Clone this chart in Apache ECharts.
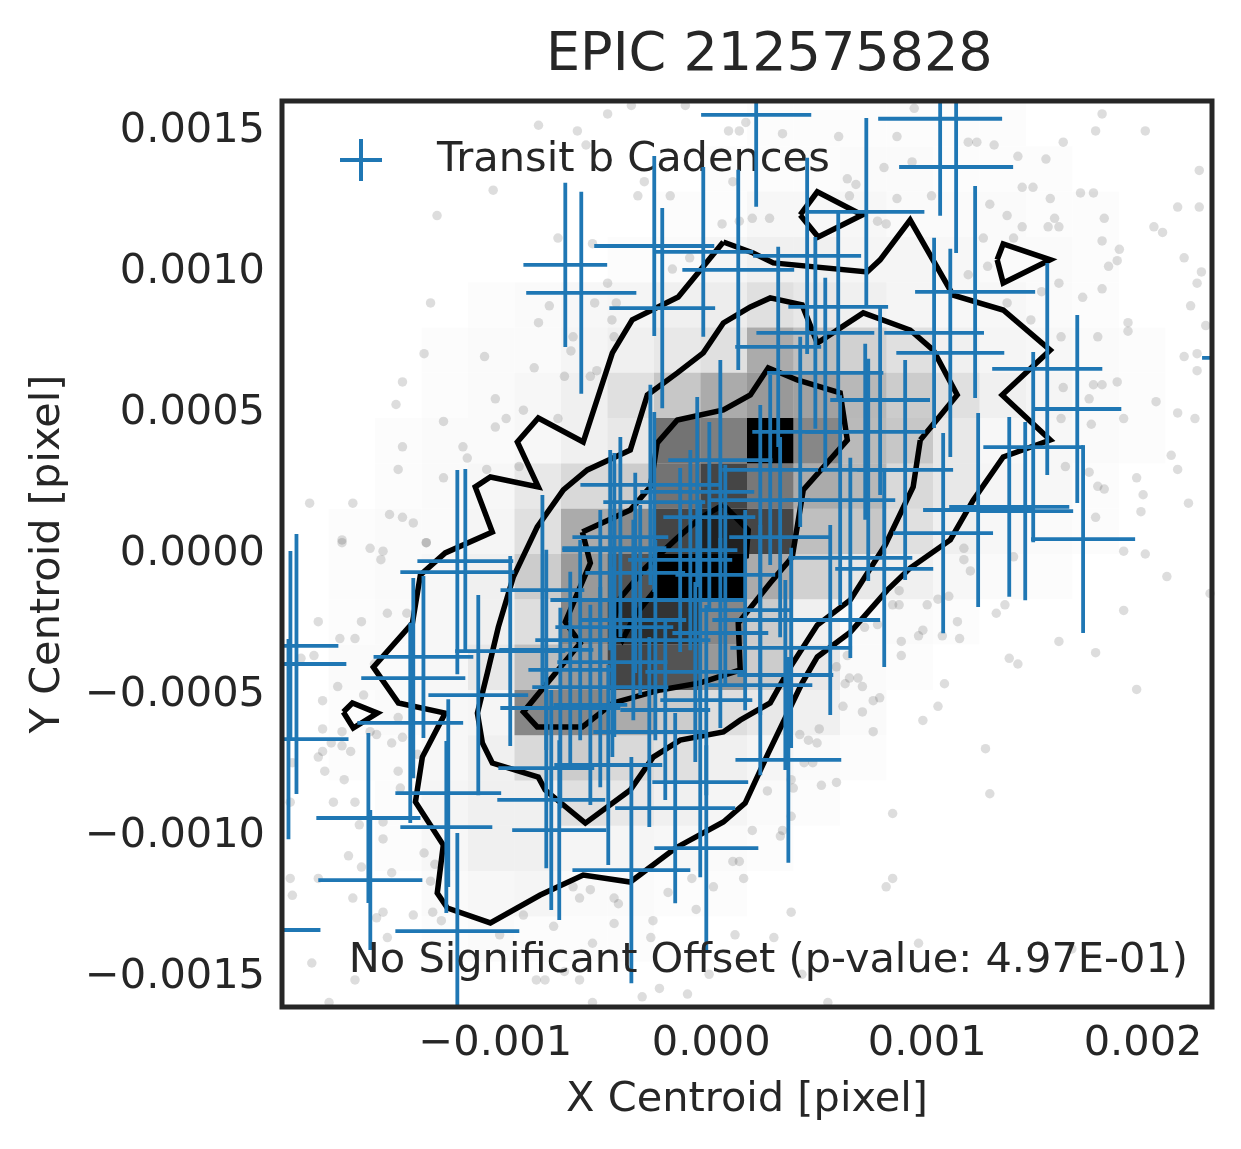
<!DOCTYPE html>
<html>
<head>
<meta charset="utf-8">
<script src="https://cdn.jsdelivr.net/npm/echarts@6/dist/echarts.min.js"></script>
<style>
  html, body { margin: 0; padding: 0; background: #fff; }
  #main { width: 1241px; height: 1149px; }
</style>
</head>
<body>
<div id="main"></div>
<script>
// all centroid values below are in units of 1e-4 pixel
var U = 1e-4;

// axis / histogram range (hist2d covers the whole axes, 20 x 20 bins)
var xRange = [-19.88, 23.19];
var yRange = [-16.06, 16.06];
var nBins = 20;

var xTicks = [-0.001, 0, 0.001, 0.002];
var yTicks = [-0.0015, -0.001, -0.0005, 0, 0.0005, 0.001, 0.0015];

// density of the out-of-transit centroids, rows from top to bottom, 0..100
var density = [
  [0,0,0,0,0,0,0,0,0,0,1,1,1,1,1,1,0,0,0,0],
  [0,0,0,0,0,0,0,0,0,1,1,1,2,2,1,1,1,0,0,0],
  [0,0,0,0,0,0,0,0,1,1,3,3,3,2,2,2,1,1,0,0],
  [0,0,0,0,0,0,0,1,2,4,6,6,4,4,3,2,2,1,0,0],
  [0,0,0,0,1,2,3,4,6,7,12,9,6,4,3,3,2,1,0,0],
  [0,0,0,1,2,2,4,6,9,12,33,25,18,12,6,4,3,2,1,0],
  [0,0,0,1,2,3,6,12,22,33,40,37,28,20,12,6,4,2,1,0],
  [0,0,1,2,2,3,6,9,55,50,100,47,27,22,9,3,3,2,1,0],
  [0,0,1,2,3,9,15,20,55,73,53,33,28,15,9,4,3,1,0,0],
  [0,1,2,2,4,12,33,45,73,87,73,25,22,12,6,3,2,1,0,0],
  [0,1,2,3,6,20,40,67,100,100,33,18,9,6,3,2,1,0,0,0],
  [0,1,2,3,6,13,47,83,80,47,20,6,2,2,1,0,0,0,0,0],
  [0,2,2,3,9,25,40,73,67,40,20,9,2,1,0,0,0,0,0,0],
  [0,1,2,3,4,47,47,33,20,13,9,6,2,0,0,0,0,0,0,0],
  [0,1,1,3,6,15,20,15,12,6,4,2,1,0,0,0,0,0,0,0],
  [0,0,1,4,6,6,12,9,6,4,2,1,0,0,0,0,0,0,0,0],
  [0,0,1,3,6,6,4,4,3,2,1,0,0,0,0,0,0,0,0,0],
  [0,0,0,2,3,4,2,2,1,1,0,0,0,0,0,0,0,0,0,0],
  [0,0,0,1,2,1,1,1,0,0,0,0,0,0,0,0,0,0,0,0],
  [0,0,0,0,0,0,0,0,0,0,0,0,0,0,0,0,0,0,0,0]
];

// contour levels
var contourOuter = [[0.56,11.06],[-1.53,9.11],[-3.66,8.30],[-4.58,7.13],[-5.93,3.97],[-8.01,4.82],[-8.98,3.97],[-8.01,2.38],[-10.23,2.73],[-10.93,2.38],[-10.14,0.78],[-12.32,0.04],[-13.47,-0.74],[-13.84,-2.45],[-15.65,-4.01],[-14.49,-5.28],[-12.32,-5.64],[-13.38,-7.20],[-13.70,-8.79],[-12.41,-10.32],[-12.69,-12.02],[-12.22,-12.55],[-10.23,-13.08],[-7.92,-12.09],[-5.93,-11.38],[-3.75,-11.63],[-1.67,-10.43],[0.56,-9.50],[1.57,-8.83],[2.64,-7.06],[4.21,-4.57],[4.91,-3.65],[6.44,-2.77],[8.15,-1.28],[9.21,-0.50],[11.07,0.50],[12.13,1.91],[13.52,3.44],[15.70,4.04],[13.47,5.64],[15.70,7.23],[13.52,8.65],[11.20,9.18],[9.21,11.84],[7.82,10.43],[7.22,10.00],[2.87,10.32],[1.94,10.67],[0.56,11.06]];
var islandTop = [[4.12,12.02],[4.91,12.84],[6.99,12.02],[4.95,11.24],[4.12,12.02]];
var islandRight = [[13.24,10.43],[13.52,10.99],[15.70,10.43],[13.52,9.61],[13.24,10.43]];
var islandLeft = [[-17.04,-5.60],[-16.62,-5.28],[-15.46,-5.64],[-16.58,-6.17],[-17.04,-5.60]];
var contourMiddle = [[9.68,4.04],[9.35,2.38],[8.06,0.32],[6.44,-1.63],[4.91,-2.52],[3.66,-4.01],[2.73,-5.28],[1.34,-5.89],[0.56,-6.31],[-1.44,-6.60],[-2.69,-7.20],[-3.75,-8.37],[-5.83,-9.54],[-7.69,-8.37],[-8.01,-7.91],[-10.14,-7.41],[-10.60,-6.70],[-10.83,-5.64],[-10.37,-4.22],[-9.86,-2.59],[-9.17,-0.82],[-8.06,0.96],[-6.85,2.27],[-5.74,2.98],[-3.75,3.69],[-2.96,5.64],[-1.57,6.42],[-0.37,7.13],[0.56,8.19],[1.81,8.76],[2.73,9.08],[4.21,8.83],[4.91,7.48],[7.04,8.55],[9.21,7.94],[10.28,7.23],[11.39,5.64],[9.68,4.04]];
var contourInner = [[-5.97,0.78],[-5.60,-0.32],[-6.76,-2.41],[-6.07,-3.16],[-8.70,-5.60],[-8.06,-6.13],[-5.97,-6.13],[-4.54,-5.28],[-2.36,-4.82],[-0.51,-4.57],[1.34,-4.11],[1.25,-2.45],[2.73,-1.03],[3.75,-0.11],[4.26,2.27],[6.30,4.04],[5.97,5.71],[3.98,6.17],[2.64,6.60],[1.81,5.64],[0.56,5.11],[-1.57,4.75],[-2.50,3.94],[-2.82,2.38],[-3.75,1.56],[-5.97,0.78]];
var contourCore = [[0.56,1.74],[1.71,0.85],[1.62,-0.07],[0.05,-0.39],[-1.44,-0.64],[-2.59,-1.28],[-3.52,-2.16],[-4.12,-3.05],[-4.58,-2.52],[-4.21,-1.56],[-3.06,-0.50],[-1.67,0.50],[-0.51,1.28],[0.56,1.74]];

// individual centroids outside the dense region
var dotX = [-4.8,-3.7,-1.2,-8.0,-6.2,0.8,1.3,1.6,-5.8,-10.1,-3.1,-3.4,-1.9,0.5,1.0,1.3,-12.7,-7.1,-5.5,-4.8,-1.0,-1.8,-13.0,-7.5,-5.4,-4.4,-4.6,-8.0,-6.4,-6.5,-4.5,-13.3,-10.5,-8.2,-6.8,-5.6,-5.3,-14.3,-14.6,-10.0,-8.7,-9.5,-7.1,-12.4,-10.0,-14.3,-11.5,-11.3,-14.5,-10.4,-8.9,-12.4,-18.6,-16.6,-14.9,-14.3,-13.8,-17.1,-13.2,
  18.1,17.8,20.1,16.3,11.9,12.3,13.1,14.2,15.5,9.4,8.6,5.9,3.3,8.0,9.3,22.6,6.3,6.7,14.4,14.9,17.1,17.7,6.4,8.6,10.2,12.9,15.7,21.6,22.6,2.7,1.9,13.7,18.2,15.9,7.7,8.1,16.1,15.6,14.4,20.5,20.9,12.6,14.0,18.1,18.9,21.9,18.4,18.8,11.9,12.8,16.1,18.1,22.7,22.5,15.3,17.2,22.2,19.3,19.3,17.9,16.2,22.9,13.7,14.8,12.8,21.9,22.5,22.5,18.1,17.7,18.8,16.3,17.5,20.6,21.6,22.4,19.1,17.6,16.2,21.3,21.6,19.7,17.5,17.9,18.2,20.0,19.9,22.1,17.8,16.4,
  19.1,20.1,11.7,11.7,12.0,14.0,21.1,23.1,19.1,13.2,13.6,10.0,11.0,10.5,8.7,8.4,8.7,7.7,7.1,9.8,9.6,10.7,11.4,11.5,8.8,16.1,17.8,13.8,14.2,8.8,6.3,5.8,6.4,6.8,6.2,7.0,10.8,19.7,7.5,7.8,6.1,7.0,10.5,9.8,5.0,7.5,4.1,4.5,4.9,12.7,4.3,4.7,5.8,5.1,3.7,3.8,2.6,12.9,8.4,3.7,1.9,3.3,3.2,1.3,1.5,8.4,8.1,3.7,2.9,9.6,16.7,5.4,4.2,
  -17.1,-15.8,-15.2,-15.3,-13.2,-15.0,-14.1,-18.2,-16.2,-17.2,-16.5,-18.4,-19.0,-15.6,-17.3,-18.0,-16.1,-14.5,-18.0,-17.1,-15.8,-15.5,-18.0,-17.6,-17.1,-16.7,-18.2,-14.3,-14.8,-13.6,-19.4,-17.9,-14.5,-17.0,-14.4,-17.5,-16.5,-19.5,-16.3,-15.2,-15.2,-16.8,-13.3,-12.8,-16.2,-14.8,-19.5,-18.2,-13.0,-19.4,-16.6,-13.8,-12.9,-12.5,-15.5,-15.2,-15.0,-4.5,-4.3,-6.4,-5.6,-6.1,-2.0,-0.7,0.1,-2.8,-2.7,1.1,1.0,-4.5,-7.3,-8.7,-9.8,-0.9,-5.5,-18.5,-16.5,-17.7,-0.1,-1.1,-8.1,-7.7,-6.1,-3.2,-5.5,-6.8,-2.4];
var dotY = [15.6,15.9,15.9,15.2,15.0,15.0,15.0,15.3,14.5,12.9,13.2,12.7,12.7,11.7,13.2,11.8,12.0,11.2,11.0,9.6,10.5,10.1,8.9,8.8,8.9,8.9,8.3,8.2,7.7,7.2,7.7,7.1,7.0,6.6,6.3,6.3,6.5,6.1,5.3,5.5,5.1,4.8,4.8,4.7,4.5,3.8,3.8,3.4,3.0,3.0,3.1,2.7,1.8,1.8,1.4,1.3,1.1,0.5,0.4,
  15.6,15.0,15.0,14.6,14.6,14.6,14.5,14.1,14.0,15.8,14.8,14.8,14.9,13.7,13.9,13.6,13.3,13.1,13.0,13.0,12.8,12.8,12.7,12.6,12.7,12.4,12.6,12.3,12.3,11.9,11.9,12.0,11.9,11.9,11.8,11.7,11.6,11.6,11.6,11.6,11.4,11.2,11.2,11.1,10.8,10.5,10.2,10.4,9.9,10.2,9.6,9.4,10.0,9.6,9.3,9.1,8.8,8.2,7.9,7.7,7.7,8.1,8.9,8.3,8.3,7.0,7.1,6.5,6.0,6.0,6.1,5.9,5.5,5.4,5.0,4.8,4.8,4.6,4.8,3.5,3.0,2.7,2.9,2.4,2.3,2.1,1.5,1.8,1.3,3.1,
  0.1,0.0,0.2,-0.2,-0.6,-0.1,-0.8,-1.4,-2.0,-2.1,-1.8,-1.8,-1.5,-1.6,-1.3,-1.8,-1.8,-2.5,-2.6,-2.7,-2.9,-2.9,-2.4,-3.0,-3.1,-3.1,-3.5,-3.7,-3.9,-3.6,-3.6,-4.0,-4.4,-4.4,-4.6,-4.7,-4.6,-4.8,-5.2,-5.1,-5.4,-5.6,-5.4,-5.9,-6.2,-6.3,-6.4,-6.6,-6.7,-6.9,-7.4,-7.4,-8.1,-8.2,-8.0,-8.3,-8.4,-8.5,-9.2,-9.3,-9.8,-9.8,-10.0,-10.9,-11.5,-11.5,-11.8,-12.7,-13.6,-13.8,-14.0,-15.9,-14.9,
  0.4,0.2,0.1,-0.2,0.4,-2.1,-2.1,-2.4,-2.4,-3.0,-3.0,-3.6,-3.7,-3.9,-4.7,-5.2,-5.0,-5.8,-6.2,-6.3,-6.3,-6.4,-7.0,-6.7,-6.8,-7.0,-7.2,-6.5,-6.7,-7.1,-7.4,-7.7,-7.7,-8.0,-8.3,-8.8,-8.8,-8.8,-9.6,-9.5,-10.1,-10.7,-10.6,-11.0,-11.1,-11.3,-11.5,-11.5,-11.6,-12.1,-12.2,-12.8,-12.7,-13.0,-12.9,-12.7,-13.6,-12.2,-12.4,-11.8,-11.9,-12.2,-12.0,-12.6,-11.8,-13.6,-13.0,-13.5,-10.9,-13.1,-13.2,-12.8,-13.5,-11.5,-13.8,-14.5,-15.1,-15.9,-14.9,-15.6,-15.1,-15.1,-15.1,-15.7,-15.9,-14.8,-15.4];

// in-transit centroids with their uncertainties
var crossX = [2.08,10.60,11.34,7.18,5.88,-6.76,-6.02,-2.64,-0.37,1.25,-2.27,4.44,12.22,4.82,10.32,11.07,15.56,16.95,14.91,17.22,10.74,12.36,13.80,14.54,24.03,8.01,3.57,2.27,-0.23,-19.49,-19.21,-19.58,-11.39,-11.76,-13.33,-13.80,-13.94,-12.18,-15.88,-12.27,-15.79,-19.95,-11.76,-3.70,-7.41,-7.04,-1.67,3.10,5.28,7.13,4.12,7.27,-2.82,-0.65,-2.64,-0.09,3.19,-4.21,-4.49,6.44,-3.52,-7.82,-3.61,-4.49,0.42,3.70,-7.64,-4.58,-6.53,-0.74,3.43,-5.14,-0.23,-5.60,-2.13,-6.99,-2.87,-4.68,-0.97,-9.31,-10.79,-7.64,-4.77,-0.51,-3.29,-0.51,-1.44,0.65,1.57,-2.59,-5.14,-6.07,2.27,5.51,0.42,2.73,5.97,2.27,8.98,7.82];
var crossY = [15.57,15.43,13.72,12.13,8.76,10.25,9.26,10.92,10.71,10.07,8.72,10.57,9.29,7.84,7.84,7.13,6.56,5.14,3.79,0.53,0.74,1.56,1.67,1.52,6.95,-0.53,-7.30,-4.65,-10.43,-3.26,-3.90,-6.56,-0.25,-0.64,-3.65,-4.40,-5.99,-8.48,-9.36,-9.68,-11.56,-13.33,-13.37,-11.21,-8.72,-9.79,-9.01,7.34,6.42,4.33,4.33,2.98,2.45,2.20,1.84,1.31,0.60,0.60,0.21,-0.14,-0.67,-1.28,-2.34,-2.59,-2.80,-3.33,-3.40,-3.83,-4.11,-4.18,-4.29,-4.72,-5.18,-5.35,-5.53,-5.46,-6.31,0.14,0.14,-3.44,-5.00,-7.59,-7.48,-8.09,-1.63,-1.63,-0.21,-0.74,-1.99,-3.05,-1.63,-3.05,-2.34,-2.34,3.33,2.98,1.91,1.91,2.98,5.46];
var crossXErr = [2.55,2.87,2.64,2.69,2.31,1.94,2.55,2.78,2.31,2.59,2.45,2.50,2.78,2.73,2.31,2.50,2.55,2.04,2.31,2.41,2.31,2.55,2.78,2.22,1.30,2.27,2.45,2.41,2.41,2.22,2.31,2.78,2.22,2.64,2.31,2.41,2.45,2.45,2.41,2.13,2.41,1.85,2.87,2.73,2.50,2.18,2.78,1.99,2.69,2.78,2.22,2.18,3.24,2.64,2.36,2.13,2.36,2.22,2.41,2.87,2.31,1.94,2.45,2.73,2.22,2.82,2.18,2.55,1.94,2.31,2.22,3.15,2.13,1.71,2.08,2.78,2.59,2.22,2.18,2.55,2.31,2.22,2.50,2.22,2.31,2.08,2.41,2.31,2.08,2.55,2.31,2.08,2.22,2.31,2.41,2.22,2.55,2.31,2.22,2.31];
var crossYErr = [3.26,3.44,3.05,3.33,3.37,2.91,3.58,3.19,3.01,3.55,3.55,3.48,3.76,3.40,3.37,3.69,3.76,3.33,3.37,3.33,3.55,3.44,3.19,3.16,2.13,3.48,3.65,3.19,3.65,3.37,4.61,3.55,3.26,3.62,2.87,3.55,3.55,3.33,3.01,3.05,2.48,2.84,3.48,4.01,3.90,3.19,3.37,3.55,3.37,3.12,3.37,3.94,3.55,3.37,3.19,3.37,3.55,3.55,3.37,3.55,3.55,3.37,3.55,3.90,3.37,3.55,3.55,3.37,3.48,3.19,3.37,3.55,3.37,3.55,3.19,3.55,3.37,3.55,3.55,3.37,3.55,3.55,3.55,3.37,3.37,3.55,3.26,3.90,3.55,3.55,3.19,3.55,3.37,3.37,3.55,3.37,3.72,3.37,3.90,3.37];

var FONT = 'DejaVu Sans';
var INK = '#262626';
var BLUE = '#1f77b4';

function scaled(pts) {
  return pts.map(function (p) { return [p[0] * U, p[1] * U]; });
}

var dx = (xRange[1] - xRange[0]) / nBins;
var dy = (yRange[1] - yRange[0]) / nBins;
var cells = [];
density.forEach(function (row, r) {
  row.forEach(function (v, c) {
    if (v > 0) cells.push([c, r, v]);
  });
});

var dots = dotX.map(function (x, i) { return [x * U, dotY[i] * U]; });
var crosses = crossX.map(function (x, i) {
  return [x * U, crossY[i] * U, crossXErr[i] * U, crossYErr[i] * U];
});

function polygonSeries(pts) {
  var poly = scaled(pts);
  return {
    type: 'custom', z: 2, silent: true, clip: true,
    data: [0],
    renderItem: function (params, api) {
      return {
        type: 'polygon',
        shape: { points: poly.map(function (p) { return api.coord(p); }) },
        style: { fill: '#fff' }
      };
    }
  };
}

function contourSeries(pts) {
  var poly = scaled(pts);
  return {
    type: 'custom', z: 4, silent: true, clip: true,
    data: [0],
    renderItem: function (params, api) {
      return {
        type: 'polyline',
        shape: { points: poly.map(function (p) { return api.coord(p); }) },
        style: { stroke: '#000', fill: null, lineWidth: 5.5, lineJoin: 'miter' }
      };
    }
  };
}

var chart = echarts.init(document.getElementById('main'), null, { renderer: 'canvas' });

var option = {
  animation: false,
  backgroundColor: '#fff',
  textStyle: { fontFamily: FONT },
  title: {
    text: 'EPIC 212575828',
    left: 546, top: 29, padding: 0,
    textStyle: { fontFamily: FONT, fontSize: 54, fontWeight: 'normal', color: INK }
  },
  legend: {
    left: 340, top: 139, padding: 0,
    itemWidth: 42, itemHeight: 42,
    data: [{ name: 'Transit b Cadences', icon: 'path://M19,0h4v42h-4zM0,19h42v4h-42z' }],
    textStyle: { fontFamily: FONT, fontSize: 41.5, color: INK, padding: [0, 0, 0, 50] }
  },
  grid: {
    left: 282, top: 101, width: 930, height: 906,
    show: true, borderColor: INK, borderWidth: 5, backgroundColor: 'transparent', z: 10,
    outerBoundsMode: 'none'
  },
  xAxis: {
    type: 'value', min: xRange[0] * U, max: xRange[1] * U,
    splitLine: { show: false }, axisLine: { show: false }, axisTick: { show: false },
    axisLabel: {
      customValues: xTicks, margin: 16, fontSize: 41.5, fontFamily: FONT, color: INK,
      formatter: function (v) { return v.toFixed(3).replace('-', '\u2212'); }
    },
    name: 'X Centroid [pixel]', nameLocation: 'middle', nameGap: 72,
    nameTextStyle: { fontSize: 41.5, fontFamily: FONT, color: INK }
  },
  yAxis: {
    type: 'value', min: yRange[0] * U, max: yRange[1] * U,
    splitLine: { show: false }, axisLine: { show: false }, axisTick: { show: false },
    axisLabel: {
      customValues: yTicks, margin: 17, fontSize: 41.5, fontFamily: FONT, color: INK,
      formatter: function (v) { return v.toFixed(4).replace('-', '\u2212'); }
    },
    name: 'Y Centroid [pixel]', nameLocation: 'middle', nameGap: 213,
    nameTextStyle: { fontSize: 41.5, fontFamily: FONT, color: INK }
  },
  graphic: [{
    type: 'text', z: 20,
    style: {
      text: 'No Significant Offset (p-value: 4.97E-01)',
      x: 1188, y: 961, align: 'right', verticalAlign: 'middle',
      font: '41.5px "DejaVu Sans"', fill: INK
    }
  }],
  series: [
    {
      type: 'scatter', z: 1, silent: true, symbolSize: 9.5,
      data: dots,
      itemStyle: { color: 'rgba(0,0,0,0.17)' }
    },
    polygonSeries(contourOuter),
    polygonSeries(islandTop),
    polygonSeries(islandRight),
    polygonSeries(islandLeft),
    {
      type: 'custom', z: 3, silent: true, clip: true,
      data: cells,
      renderItem: function (params, api) {
        var c = api.value(0), r = api.value(1), v = api.value(2);
        var p0 = api.coord([(xRange[0] + c * dx) * U, (yRange[1] - r * dy) * U]);
        var p1 = api.coord([(xRange[0] + (c + 1) * dx) * U, (yRange[1] - (r + 1) * dy) * U]);
        return {
          type: 'rect',
          shape: { x: p0[0], y: p0[1], width: p1[0] - p0[0], height: p1[1] - p0[1] },
          style: { fill: 'rgba(0,0,0,' + (v / 100) + ')' }
        };
      }
    },
    contourSeries(contourOuter),
    contourSeries(islandTop),
    contourSeries(islandRight),
    contourSeries(islandLeft),
    contourSeries(contourMiddle),
    contourSeries(contourInner),
    contourSeries(contourCore),
    {
      name: 'Transit b Cadences',
      type: 'custom', z: 5, silent: true, clip: true,
      itemStyle: { color: BLUE },
      data: crosses,
      renderItem: function (params, api) {
        var x = api.value(0), y = api.value(1), ex = api.value(2), ey = api.value(3);
        var l = api.coord([x - ex, y]), r = api.coord([x + ex, y]);
        var t = api.coord([x, y + ey]), b = api.coord([x, y - ey]);
        var st = { stroke: BLUE, lineWidth: 3.8 };
        return {
          type: 'group',
          children: [
            { type: 'line', shape: { x1: l[0], y1: l[1], x2: r[0], y2: r[1] }, style: st },
            { type: 'line', shape: { x1: t[0], y1: t[1], x2: b[0], y2: b[1] }, style: st }
          ]
        };
      }
    }
  ]
};

chart.setOption(option);
</script>
</body>
</html>
